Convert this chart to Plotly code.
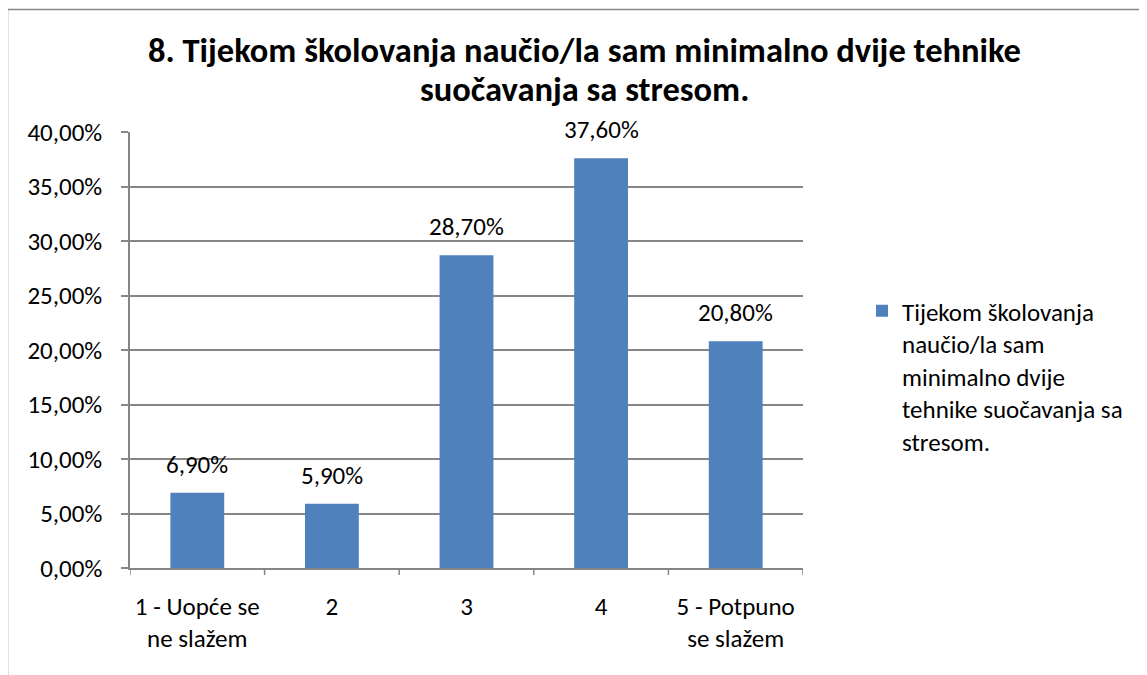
import plotly.graph_objects as go

categories = ["1 - Uopće se<br>ne slažem", "2", "3", "4", "5 - Potpuno<br>se slažem"]
values = [0.069, 0.059, 0.287, 0.376, 0.208]
series_name = "Tijekom školovanja<br>naučio/la sam<br>minimalno dvije<br>tehnike suočavanja sa<br>stresom."
ytick_vals = [0, 0.05, 0.10, 0.15, 0.20, 0.25, 0.30, 0.35, 0.40]
ytick_text = ["0,00%", "5,00%", "10,00%", "15,00%", "20,00%", "25,00%", "30,00%", "35,00%", "40,00%"]
title_lines = ["8. Tijekom školovanja naučio/la sam minimalno dvije tehnike", "suočavanja sa stresom."]

FONT = "Carlito, Calibri, Lato, sans-serif"
GRID = "#868686"
OFF = 8  # page body margin
W, H = 1147, 675
L, T = 130 - OFF, 132 - OFF
R = W - (803 - OFF)
B = H - (568 - OFF)
FS = 25

fig = go.Figure()
fig.add_trace(go.Bar(
    x=list(range(len(categories))), y=values, name=series_name,
    marker=dict(color="#4F81BD", line=dict(width=0)),
    showlegend=True,
))

for i, v in enumerate(values):
    fig.add_annotation(
        x=i, y=v, xref="x", yref="y",
        text=f"{v*100:.2f}%".replace(".", ","),
        showarrow=False, yanchor="bottom", yshift=11,
        font=dict(family=FONT, size=FS, color="#000000"),
    )

pw = W - L - R
ph = H - T - B

def px(x):
    return (x - OFF - L) / pw

def py(y):
    return (H - B - (y - OFF)) / ph

for line, ycen in zip(title_lines, [50, 89]):
    fig.add_annotation(
        x=px(584), y=py(ycen), xref="paper", yref="paper",
        text="<b>" + line + "</b>", showarrow=False,
        xanchor="center", yanchor="middle",
        font=dict(family=FONT, size=34.5, color="#000000"),
    )

fig.add_shape(
    type="rect", xref="paper", yref="paper",
    x0=px(7.5), x1=px(1170), y0=py(700), y1=py(9.5),
    line=dict(color=GRID, width=1.5), fillcolor="rgba(0,0,0,0)", layer="below",
)

fig.update_layout(
    width=W, height=H,
    margin=dict(l=L, r=R, t=T, b=B, pad=0),
    paper_bgcolor="white", plot_bgcolor="white",
    bargap=0.6,
    font=dict(family=FONT, size=FS, color="#000000"),
    legend=dict(
        x=px(862), y=py(288), xanchor="left", yanchor="top", valign="top",
        font=dict(family=FONT, size=FS, color="#000000"),
        bgcolor="rgba(0,0,0,0)", itemwidth=30,
    ),
    xaxis=dict(
        tickmode="array", tickvals=list(range(len(categories))), ticktext=categories,
        range=[-0.5, len(categories) - 0.5],
        showline=True, linecolor=GRID, linewidth=1.5,
        ticks="", showgrid=False,
        tickfont=dict(family=FONT, size=FS, color="#000000"),
        ticklabelstandoff=15,
    ),
    yaxis=dict(
        range=[0, 0.40], tickvals=ytick_vals, ticktext=ytick_text,
        showline=True, linecolor=GRID, linewidth=1.5,
        ticks="outside", ticklen=7, tickcolor=GRID, tickwidth=1.5,
        showgrid=True, gridcolor=GRID, gridwidth=1.5, zeroline=False,
        tickfont=dict(family=FONT, size=FS, color="#000000"),
        ticklabelstandoff=14,
    ),
)

# category boundary tick marks on the x axis
for i in range(len(categories) + 1):
    fig.add_shape(
        type="line", xref="x", yref="paper",
        x0=i - 0.5, x1=i - 0.5, y0=0, y1=-7 / ph,
        line=dict(color=GRID, width=1.5),
    )

fig.write_html("out.html")
